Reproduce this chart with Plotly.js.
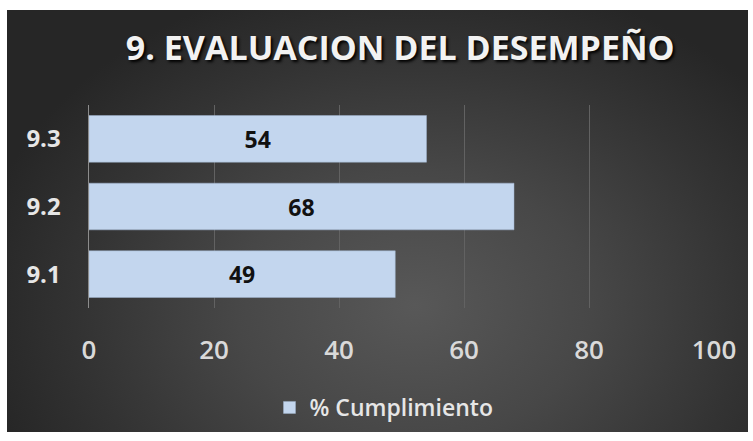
<!DOCTYPE html>
<html>
<head>
<meta charset="utf-8">
<script src="https://cdn.plot.ly/plotly-3.0.1.min.js"></script>
<style>
  html, body { margin: 0; padding: 0; background: #ffffff; }
  #wrap { position: relative; width: 753px; height: 441px; overflow: hidden; }
  #bg { position: absolute; left: 7px; top: 10px; width: 741px; height: 422px;
        background: radial-gradient(ellipse 60% 80% at 55% 70%, #585858 0%, #474747 40%, #333333 75%, #262626 100%); }
  #chart { position: absolute; left: 0; top: 0; width: 753px; height: 441px; }
</style>
</head>
<body>
<div id="wrap"><div id="bg"></div><div id="chart"></div></div>
<script>
const categories = ["9.1", "9.2", "9.3"];
const values = [49, 68, 54];
const seriesName = "% Cumplimiento";
const titleText = "9. EVALUACION DEL DESEMPEÑO";
const xTicks = [0, 20, 40, 60, 80, 100];

const FONT = "Open Sans, Lato, DejaVu Sans, sans-serif";

const trace = {
  type: "bar",
  orientation: "h",
  y: categories,
  x: values,
  name: seriesName,
  width: 0.69,
  marker: { color: "#c3d6ee", line: { color: "#9fb3cc", width: 0.5 } },
  text: values.map(String),
  textposition: "inside",
  insidetextanchor: "middle",
  textfont: { family: FONT, size: 23, color: "#111111", weight: "bold" },
  hoverinfo: "skip"
};

const layout = {
  width: 753, height: 441,
  paper_bgcolor: "rgba(0,0,0,0)",
  plot_bgcolor: "rgba(0,0,0,0)",
  margin: { l: 89, r: 39, t: 105, b: 131 },
  title: {
    text: "<b>" + titleText + "</b>",
    x: 0.498, xanchor: "center", xref: "paper",
    y: 1 - 48 / 441, yref: "container", yanchor: "middle",
    font: { family: FONT, size: 34, color: "#f2f2f2", shadow: "2px 2px 3px #000000" }
  },
  xaxis: {
    range: [0, 100],
    tickvals: xTicks,
    ticktext: xTicks.map(String),
    showgrid: true, gridcolor: "#626262", gridwidth: 1,
    zeroline: false, showline: false,
    ticks: "", ticklabelstandoff: 24,
    tickfont: { family: FONT, size: 26, color: "#d9d9d9", weight: 600 },
    fixedrange: true
  },
  yaxis: {
    type: "category",
    categoryorder: "array", categoryarray: categories,
    showgrid: false, zeroline: false,
    showline: true, linecolor: "#8c8c8c", linewidth: 1.5,
    ticks: "", ticklabelstandoff: 22,
    tickfont: { family: FONT, size: 24, color: "#e6e6e6", weight: "bold" },
    fixedrange: true
  },
  showlegend: true,
  legend: {
    orientation: "h",
    x: 0.472, xanchor: "center",
    y: -0.49, yanchor: "middle",
    bgcolor: "rgba(0,0,0,0)",
    font: { family: FONT, size: 23, color: "#e6e6e6", weight: 600 },
    itemwidth: 30
  },
  bargap: 0.31
};

Plotly.newPlot("chart", [trace], layout, { displayModeBar: false, staticPlot: true });
</script>
</body>
</html>
